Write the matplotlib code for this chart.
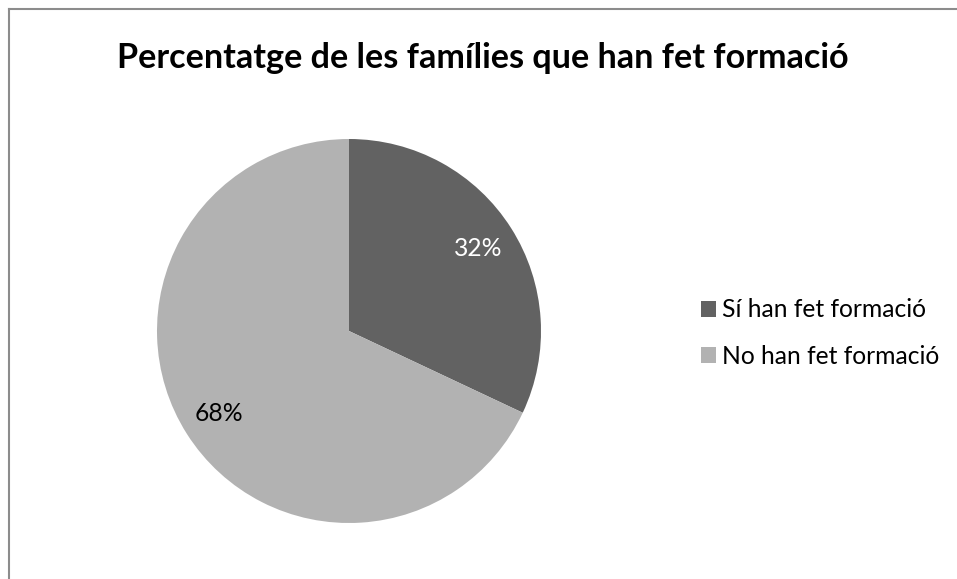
import matplotlib

matplotlib.use("Agg")
import matplotlib.pyplot as plt
from matplotlib.lines import Line2D

plt.rcParams["font.family"] = ["Lato", "DejaVu Sans"]

# --- dades ---
categories = ["Sí han fet formació", "No han fet formació"]
shares = [32, 68]
colors = ["#626262", "#b2b2b2"]
title = "Percentatge de les famílies que han fet formació"

W, H = 957, 579
fig = plt.figure(figsize=(W / 100, H / 100), dpi=100)
fig.patch.set_facecolor("white")

# marc gris del gràfic (només dalt i esquerra)
fig.add_artist(Line2D([8.5 / W, 8.5 / W], [0, 1 - 8.5 / H], color="#8c8c8c", lw=1.5))
fig.add_artist(Line2D([8.5 / W, 1], [1 - 8.5 / H, 1 - 8.5 / H], color="#8c8c8c", lw=1.5))

cx, cy, r = 349, 331, 192
ax = fig.add_axes([(cx - r) / W, (H - cy - r) / H, 2 * r / W, 2 * r / H])
wedges, texts, autotexts = ax.pie(
    shares,
    colors=colors,
    startangle=90,
    counterclock=False,
    autopct="%d%%",
    pctdistance=0.8,
    wedgeprops=dict(linewidth=0),
    textprops=dict(fontsize=17.7),
)
autotexts[0].set_color("white")
autotexts[1].set_color("black")
ax.set_xlim(-1, 1)
ax.set_ylim(-1, 1)
ax.set_aspect("equal")

fig.text(483 / W, 1 - 58 / H, title, ha="center", va="center",
         fontsize=24.6, fontweight="bold")

leg = fig.legend(wedges, categories, loc="center left",
                 bbox_to_anchor=(701 / W, 1 - 333 / H), frameon=False,
                 fontsize=17.7, handlelength=0.62, handleheight=0.62,
                 handletextpad=0.25, labelspacing=0.95, borderaxespad=0,
                 borderpad=0)

fig.savefig("out.png", dpi=100)
